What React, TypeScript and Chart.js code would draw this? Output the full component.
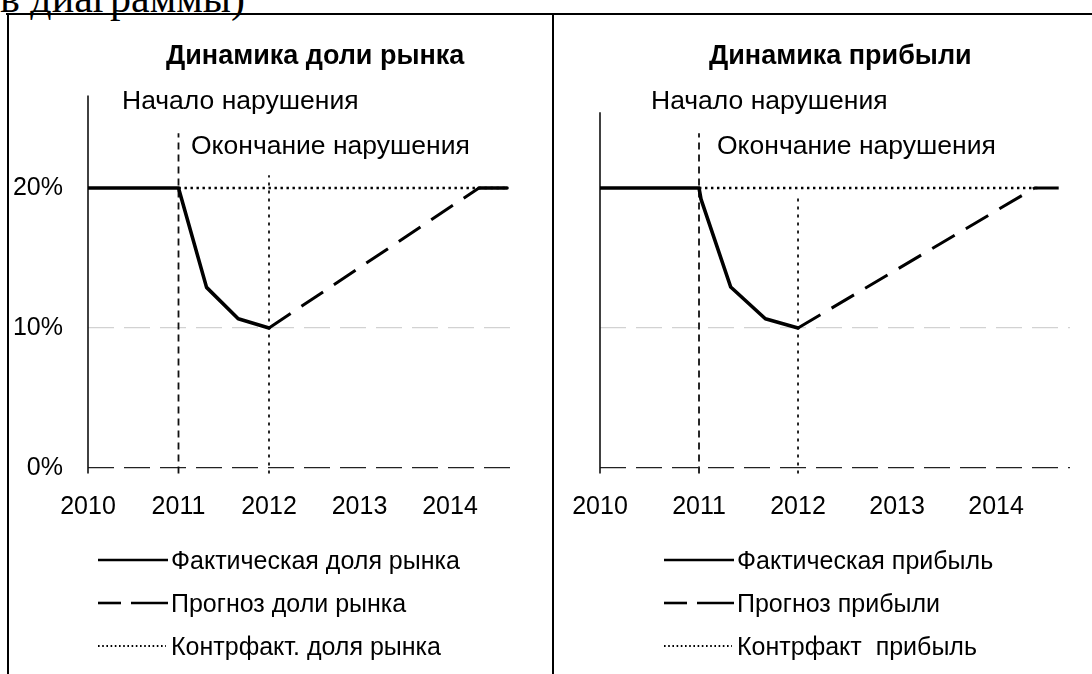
import React, { useEffect, useRef } from "react";
import { Chart, registerables } from "chart.js";

Chart.register(...registerables);

const FONT = '"Liberation Sans", Arial, Helvetica, sans-serif';

// ---- axis ticks ----
const YEARS = [2010, 2011, 2012, 2013, 2014];
const Y_TICKS = [0, 10, 20];

// ---- left panel: market share ----
const shareActualYears = [2010, 2011, 2011.31, 2011.66, 2012, 2012.01, 2014.32, 2014.63];
const shareActualValues = [20, 20, 12.9, 10.66, 10, null, 20, 20];
const shareForecastYears = [2012, 2014.32];
const shareForecastValues = [10, 20];
const shareCounterYears = [2011, 2014.63];
const shareCounterValues = [20, 20];
const shareMarkerYears = [2010, 2011, 2012];
const shareMarkerTops = [26.6, 23.9, 20.9];

// ---- right panel: profit ----
const profitActualYears = [2010, 2011, 2011.02, 2011.32, 2011.67, 2012];
const profitActualValues = [20, 20, 19.2, 12.93, 10.66, 10];
const profitForecastYears = [2012, 2014.39, 2014.69];
const profitForecastValues = [10, 20, 20];
const profitCounterYears = [2011, 2014.42];
const profitCounterValues = [20, 20];
const profitMarkerYears = [2010, 2011, 2012];
const profitMarkerTops = [25.4, 23.9, 19.4];

const series = (xs: number[], ys: (number | null)[]) => xs.map((x, i) => ({ x, y: ys[i] }));

type PanelCfg = {
  left: number;
  width: number;
  yAxisWidth: number;
  padRight: number;
  xMax: number;
  showY: boolean;
  actual: { x: number; y: number | null }[];
  forecast: { x: number; y: number | null }[];
  counter: { x: number; y: number | null }[];
  markerYears: number[];
  markerTops: number[];
};

const CANVAS_TOP = 15;
const CANVAS_H = 659;

function Panel({ cfg }: { cfg: PanelCfg }) {
  const ref = useRef<HTMLCanvasElement | null>(null);
  useEffect(() => {
    if (!ref.current) return;
    const markerStyles = [
      { borderWidth: 1.6, borderDash: [] as number[] },
      { borderWidth: 1.8, borderDash: [7, 5] },
      { borderWidth: 1.8, borderDash: [3, 5] },
    ];
    const markers = cfg.markerYears.map((yr, i) => ({
      label: "marker" + i,
      data: [
        { x: yr, y: -0.4 },
        { x: yr, y: cfg.markerTops[i] },
      ],
      borderColor: "#111",
      borderWidth: markerStyles[i].borderWidth,
      borderDash: markerStyles[i].borderDash,
      pointRadius: 0,
      clip: false as any,
    }));
    const chart = new Chart(ref.current, {
      type: "line",
      data: {
        datasets: [
          {
            label: "actual",
            data: cfg.actual,
            borderColor: "#000",
            borderWidth: 3.6,
            pointRadius: 0,
            spanGaps: false,
            borderJoinStyle: "round",
            borderCapStyle: "round",
          },
          {
            label: "forecast",
            data: cfg.forecast,
            borderColor: "#000",
            borderWidth: 3,
            borderDash: [26, 13],
            pointRadius: 0,
          },
          {
            label: "counter",
            data: cfg.counter,
            borderColor: "#000",
            borderWidth: 2.4,
            borderDash: [2.4, 3.6],
            pointRadius: 0,
          },
          ...markers,
        ] as any,
      },
      options: {
        animation: false,
        responsive: false,
        maintainAspectRatio: false,
        events: [],
        layout: { padding: { top: 80, right: cfg.padRight, bottom: 159.4, left: 0 } },
        plugins: {
          legend: { display: false },
          tooltip: { enabled: false },
          title: { display: false },
        },
        scales: {
          x: {
            type: "linear",
            min: 2010,
            max: cfg.xMax,
            grid: { display: false },
            border: { display: false },
            afterBuildTicks: (s: any) => {
              s.ticks = YEARS.map((v) => ({ value: v }));
            },
            afterFit: (s: any) => {
              s.height = 41;
            },
            ticks: {
              color: "#000",
              font: { family: FONT, size: 25 },
              padding: 11,
              maxRotation: 0,
              autoSkip: false,
              callback: (v: any) => String(v),
            },
          },
          y: {
            type: "linear",
            min: -0.4,
            max: 26.64,
            afterBuildTicks: (s: any) => {
              s.ticks = Y_TICKS.map((v) => ({ value: v }));
            },
            afterFit: (s: any) => {
              s.width = cfg.yAxisWidth;
            },
            grid: {
              drawTicks: false,
              lineWidth: 1.3,
              color: (ctx: any) => {
                const v = ctx.tick ? ctx.tick.value : null;
                if (v === 0) return "#222";
                if (v === 10) return "#d2d2d2";
                return "rgba(0,0,0,0)";
              },
            },
            border: { display: false, dash: [26, 10] },
            ticks: {
              display: cfg.showY,
              color: "#000",
              font: { family: FONT, size: 25 },
              padding: 25,
              callback: (v: any) => v + "%",
            },
          },
        },
      } as any,
    });
    return () => chart.destroy();
  }, [cfg]);
  return (
    <canvas
      ref={ref}
      width={cfg.width}
      height={CANVAS_H}
      style={{ position: "absolute", left: cfg.left, top: CANVAS_TOP, width: cfg.width, height: CANVAS_H }}
    />
  );
}

const leftCfg: PanelCfg = {
  left: 9,
  width: 542,
  yAxisWidth: 79,
  padRight: 41,
  xMax: 2014.663,
  showY: true,
  actual: series(shareActualYears, shareActualValues),
  forecast: series(shareForecastYears, shareForecastValues),
  counter: series(shareCounterYears, shareCounterValues),
  markerYears: shareMarkerYears,
  markerTops: shareMarkerTops,
};

const rightCfg: PanelCfg = {
  left: 555,
  width: 537,
  yAxisWidth: 45,
  padRight: 22,
  xMax: 2014.747,
  showY: false,
  actual: series(profitActualYears, profitActualValues),
  forecast: series(profitForecastYears, profitForecastValues),
  counter: series(profitCounterYears, profitCounterValues),
  markerYears: profitMarkerYears,
  markerTops: profitMarkerTops,
};

const textStyle = (left: number, centerY: number, bold = false, size = 25): React.CSSProperties => ({
  position: "absolute",
  left,
  top: centerY - 15,
  lineHeight: "30px",
  fontFamily: FONT,
  fontSize: size,
  fontWeight: bold ? "bold" : "normal",
  color: "#000",
  whiteSpace: "pre",
});

function LegendSample({ kind, x, y }: { kind: "solid" | "dash" | "dot"; x: number; y: number }) {
  return (
    <svg style={{ position: "absolute", left: x, top: y - 5 }} width={72} height={10}>
      {kind === "solid" && <line x1={0} y1={5} x2={70} y2={5} stroke="#000" strokeWidth={2.6} />}
      {kind === "dash" && (
        <>
          <line x1={0} y1={5} x2={23} y2={5} stroke="#000" strokeWidth={2.6} />
          <line x1={33} y1={5} x2={70} y2={5} stroke="#000" strokeWidth={2.6} />
        </>
      )}
      {kind === "dot" && (
        <line x1={0} y1={5} x2={68} y2={5} stroke="#000" strokeWidth={1.8} strokeDasharray="1.6 2.6" />
      )}
    </svg>
  );
}

const shareLegend = ["Фактическая доля рынка", "Прогноз доли рынка", "Контрфакт. доля рынка"];
const profitLegend = ["Фактическая прибыль", "Прогноз прибыли", "Контрфакт  прибыль"];
const legendKinds: ("solid" | "dash" | "dot")[] = ["solid", "dash", "dot"];
const legendRowsY = [560, 603, 646];

export default function App() {
  return (
    <div
      style={{
        position: "fixed",
        left: 0,
        top: 0,
        width: 1092,
        height: 674,
        overflow: "hidden",
        background: "#fff",
      }}
    >
      <div
        style={{
          position: "absolute",
          left: 0,
          top: -22,
          fontFamily: '"Liberation Serif", "Times New Roman", serif',
          fontSize: 42,
          lineHeight: "40px",
          whiteSpace: "nowrap",
          color: "#000",
        }}
      >
        в диаграммы)
      </div>
      {/* frame */}
      <div style={{ position: "absolute", left: 6, top: 13, width: 1086, height: 2, background: "#000" }} />
      <div style={{ position: "absolute", left: 7, top: 13, width: 2, height: 661, background: "#000" }} />
      <div style={{ position: "absolute", left: 552, top: 13, width: 2, height: 661, background: "#000" }} />

      <Panel cfg={leftCfg} />
      <Panel cfg={rightCfg} />

      {/* titles and annotations */}
      <div style={textStyle(166, 55, true, 27)}>Динамика доли рынка</div>
      <div style={textStyle(122, 100, false, 26.5)}>Начало нарушения</div>
      <div style={textStyle(191, 145, false, 26.5)}>Окончание нарушения</div>

      <div style={textStyle(709, 55, true, 27)}>Динамика прибыли</div>
      <div style={textStyle(651, 100, false, 26.5)}>Начало нарушения</div>
      <div style={textStyle(717, 145, false, 26.5)}>Окончание нарушения</div>

      {/* legends */}
      {shareLegend.map((t, i) => (
        <React.Fragment key={"sl" + i}>
          <LegendSample kind={legendKinds[i]} x={98} y={legendRowsY[i]} />
          <div style={textStyle(171, legendRowsY[i])}>{t}</div>
        </React.Fragment>
      ))}
      {profitLegend.map((t, i) => (
        <React.Fragment key={"pl" + i}>
          <LegendSample kind={legendKinds[i]} x={664} y={legendRowsY[i]} />
          <div style={textStyle(737, legendRowsY[i])}>{t}</div>
        </React.Fragment>
      ))}
    </div>
  );
}
